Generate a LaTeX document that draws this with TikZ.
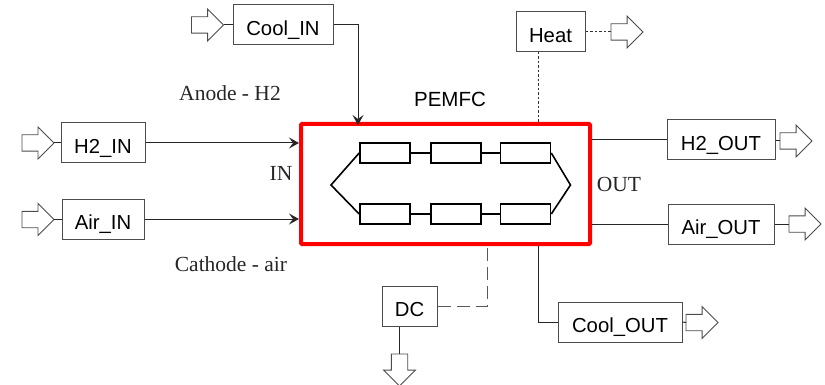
\documentclass[tikz,border=0pt]{standalone}
\usepackage{fontspec}
\setmainfont{Liberation Serif}
\setsansfont{Liberation Sans}
\usetikzlibrary{arrows.meta,shapes.arrows,calc}
\newcommand{\shaft}{\rule{0pt}{15.5pt}}
\newcommand{\shaftdown}{\rule{15.5pt}{0pt}}
\tikzset{
  x=1pt,y=-1pt,
  lab/.style={font=\sffamily\fontsize{20.5}{24}\selectfont,inner sep=0pt},
  ser/.style={font=\rmfamily\fontsize{21.5}{24}\selectfont,inner sep=0pt,text=black!85},
  ubox/.style={draw=black!70,line width=1pt,fill=white,inner sep=0pt,text height=21pt,text depth=0pt,font=\sffamily\fontsize{20.3}{24}\selectfont},
  cell/.style={draw=black,line width=1.6pt,fill=white,inner sep=0pt,minimum width=50pt,minimum height=20pt},
  blk/.style={single arrow,draw=black!70,line width=.9pt,fill=white,inner sep=0pt,outer sep=0pt,anchor=tail,
    minimum height=32pt,minimum width=31pt,single arrow head extend=7.75pt,single arrow tip angle=90,single arrow head indent=0pt},
  wire/.style={draw=black!85,line width=1pt},
  inner wire/.style={draw=black,line width=1.6pt},
  tipped/.style={wire,-{Stealth[length=10pt,width=11pt,inset=4pt]}},
  dotline/.style={draw=black!80,line width=1pt,dash pattern=on 2.5pt off 2pt},
  longdash/.style={draw=black!65,line width=1pt,dash pattern=on 13pt off 6pt},
}
\begin{document}
\begin{tikzpicture}
\useasboundingbox (0,0) rectangle (825,385);
% main box
\node[draw=red,line width=4pt,minimum width=289pt,minimum height=120pt,inner sep=0pt,rounded corners=1pt] (pem) at (445.5,184) {};
% boxes
\node[ubox,minimum width=100pt,minimum height=40pt] (coolin) at (283,25) {Cool\_IN};
\node[ubox,minimum width=84pt,minimum height=40pt] (h2in) at (103,143) {H2\_IN};
\node[ubox,minimum width=82pt,minimum height=40pt] (airin) at (103,219) {Air\_IN};
\node[ubox,minimum width=69pt,minimum height=40pt] (heat) at (550.5,32) {Heat};
\node[ubox,minimum width=108pt,minimum height=40pt] (h2out) at (721,140) {H2\_OUT};
\node[ubox,minimum width=106pt,minimum height=40pt] (airout) at (721,224) {Air\_OUT};
\node[ubox,minimum width=55pt,minimum height=40pt] (dc) at (409.5,306) {DC};
\node[ubox,minimum width=124pt,minimum height=40pt] (coolout) at (620,322) {Cool\_OUT};
% block arrows
\node[blk] (a1) at (191.5,25) {\shaft};
\node[blk] (a2) at (22,143) {\shaft};
\node[blk] (a3) at (22,219.5) {\shaft};
\node[blk] (a4) at (611,32) {\shaft};
\node[blk] (a5) at (780,141) {\shaft};
\node[blk] (a6) at (789,224) {\shaft};
\node[blk] (a7) at (686,322.5) {\shaft};
\node[blk,shape border rotate=270] (a8) at (399.5,354) {\shaftdown};
% cells
\node[cell] (c1) at (385,153) {};
\node[cell] (c2) at (456,153) {};
\node[cell] (c3) at (525.5,153) {};
\node[cell] (d1) at (385,214) {};
\node[cell] (d2) at (456,214) {};
\node[cell] (d3) at (525.5,214) {};
\coordinate (la) at (331,185);
\coordinate (ra) at (570.5,185);
\draw[inner wire] (c1.east) -- (c2.west) (c2.east) -- (c3.west);
\draw[inner wire] (d1.east) -- (d2.west) (d2.east) -- (d3.west);
\draw[inner wire,line join=miter] (c1.west) -- (la) -- (d1.west);
\draw[inner wire,line join=miter] (c3.east) -- (ra) -- (d3.east);
% connectors
\coordinate (coolend) at (358,125);
\coordinate (heatend) at (538,122);
\coordinate (heatstart) at (538,52);
\coordinate (dcend) at (487,246);
\coordinate (coolstart) at (538,246);
\draw[wire] (a1.tip) -- (a1.tip -| coolin.west);
\draw[wire] (a2.tip) -- (a2.tip -| h2in.west);
\draw[wire] (a3.tip) -- (a3.tip -| airin.west);
\draw[tipped] (coolin.east) -| (coolend);
\draw[tipped] (h2in.east) -- (h2in.east -| pem.west);
\draw[tipped] (airin.east) -- (airin.east -| pem.west);
\draw[dotline] (heat.east) -- (a4.tail);
\draw[dotline] (heatstart) -- (heatend);
\draw[wire] (h2out.west) ++(0,-.5) -- ($(h2out.west -| pem.east)+(0,-.5)$);
\draw[wire] (a5.tail -| h2out.east) -- (a5.tail);
\draw[wire] (airout.west) -- (airout.west -| pem.east);
\draw[wire] (airout.east) -- (a6.tail);
\draw[wire] (coolstart) |- (coolout.west);
\draw[wire] (coolout.east) -- (a7.tail);
\draw[longdash] (dc.east) -| (dcend);
\draw[wire] (a8.tail |- dc.south) -- (a8.tail);
% labels
\node[ser] (t1) at (230,93) {Anode - H2};
\node[ser] (t2) at (231,264) {Cathode - air};
\node[ser] (t3) at (281,173) {IN};
\node[ser] (t4) at (619,184) {OUT};
\node[lab] (t5) at (450,99) {PEMFC};
\end{tikzpicture}
\end{document}
